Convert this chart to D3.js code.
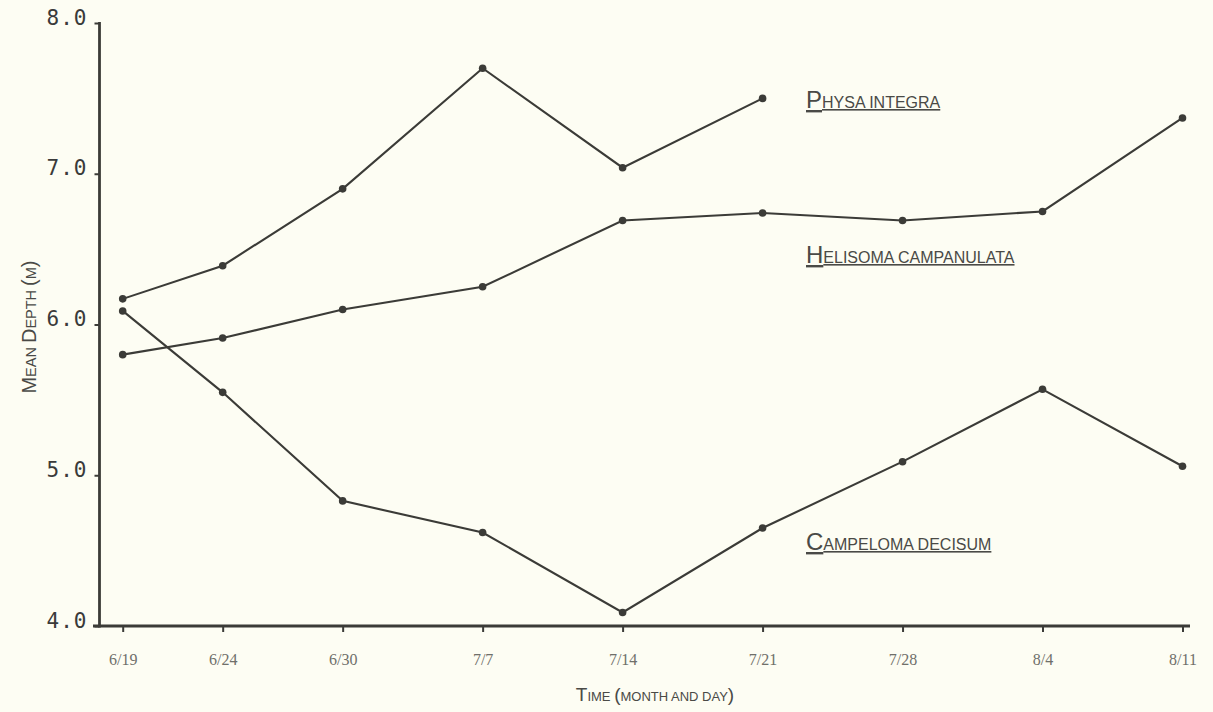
<!DOCTYPE html>
<html>
<head>
<meta charset="utf-8">
<script src="https://cdn.jsdelivr.net/npm/d3@7"></script>
<style>
  html, body { margin: 0; padding: 0; background: #fdfdf3; }
  svg { display: block; }
</style>
</head>
<body>
<script>
// Sampling dates (month/day) and mean depth (m) of each snail species
const dates = ["6/19", "6/24", "6/30", "7/7", "7/14", "7/21", "7/28", "8/4", "8/11"];
const yTicks = [4.0, 5.0, 6.0, 7.0, 8.0];

const physaIntegra = [6.17, 6.39, 6.90, 7.70, 7.04, 7.50];
const helisomaCampanulata = [5.80, 5.91, 6.10, 6.25, 6.69, 6.74, 6.69, 6.75, 7.37];
const campelomaDecisum = [6.09, 5.55, 4.83, 4.62, 4.09, 4.65, 5.09, 5.57, 5.06];

const seriesNames = ["Physa integra", "Helisoma campanulata", "Campeloma decisum"];
const seriesValues = [physaIntegra, helisomaCampanulata, campelomaDecisum];

const W = 1213, H = 712;
const ink = "#3b3b37";

const parse = d3.timeParse("%m/%d");
const days = dates.map(parse);

const svg = d3.select("body").append("svg")
  .attr("width", W).attr("height", H);

svg.append("rect").attr("width", W).attr("height", H).attr("fill", "#fdfdf3");

const x = d3.scaleTime()
  .domain([days[0], days[days.length - 1]])
  .range([122.7, 1182.5]);

const y = d3.scaleLinear()
  .domain([4, 8])
  .range([626, 23]);

// Lettering-guide style caps: capitals large, lower-case drawn as small capitals
function smallCaps(textSel, str, bigSize, smallSize) {
  let runs = [];
  for (const ch of str) {
    const big = ch !== ch.toLowerCase() || ch === "(" || ch === ")";
    const last = runs[runs.length - 1];
    if (last && last.big === big) last.s += ch;
    else runs.push({ big, s: ch });
  }
  runs.forEach(r => {
    textSel.append("tspan")
      .attr("font-size", r.big ? bigSize : smallSize)
      .text(r.s.toUpperCase());
  });
  return textSel;
}

// Y axis
const yAxis = d3.axisLeft(y)
  .tickValues(yTicks)
  .tickFormat(d3.format(".1f"))
  .tickSize(5)
  .tickSizeOuter(0)
  .tickPadding(7);

const gy = svg.append("g")
  .attr("transform", "translate(99.5,0)")
  .call(yAxis);
gy.select(".domain").remove();
gy.selectAll(".tick line").attr("stroke", ink).attr("stroke-width", 2);
gy.selectAll(".tick text")
  .attr("fill", "#3a3a3a")
  .attr("font-family", "'DejaVu Sans Mono', monospace")
  .attr("font-size", 21)
  .attr("dy", "0.05em")
  .attr("letter-spacing", 1);

svg.append("line")
  .attr("x1", 99.5).attr("x2", 99.5)
  .attr("y1", y(8) - 1).attr("y2", y(4) + 1.5)
  .attr("stroke", ink).attr("stroke-width", 2.8);

// X axis
const xAxis = d3.axisBottom(x)
  .tickValues(days)
  .tickFormat((d, i) => dates[i])
  .tickSize(6)
  .tickSizeOuter(0)
  .tickPadding(22);

const gx = svg.append("g")
  .attr("transform", `translate(0,${y(4)})`)
  .call(xAxis);
gx.select(".domain").remove();
gx.selectAll(".tick line").attr("stroke", ink).attr("stroke-width", 2);
gx.selectAll(".tick text")
  .attr("fill", "#6f6f6a")
  .attr("font-family", "'Liberation Serif', serif")
  .attr("font-size", 16);

svg.append("line")
  .attr("x1", 93).attr("x2", 1190)
  .attr("y1", y(4)).attr("y2", y(4))
  .attr("stroke", ink).attr("stroke-width", 2.8);

// Series lines and points
const line = d3.line()
  .x((d, i) => x(days[i]))
  .y(d => y(d));

seriesValues.forEach(vals => {
  svg.append("path")
    .datum(vals)
    .attr("d", line)
    .attr("fill", "none")
    .attr("stroke", ink)
    .attr("stroke-width", 2.1);
  svg.append("g").selectAll("circle")
    .data(vals)
    .join("circle")
    .attr("cx", (d, i) => x(days[i]))
    .attr("cy", d => y(d))
    .attr("r", 3.8)
    .attr("fill", ink);
});

// Species labels
const labelFont = "'Liberation Sans', Arial, sans-serif";
const labelPos = [
  { x: 806, y: 108 },
  { x: 806, y: 263 },
  { x: 806, y: 550 }
];
seriesNames.forEach((name, i) => {
  const t = svg.append("text")
    .attr("x", labelPos[i].x)
    .attr("y", labelPos[i].y)
    .attr("fill", "#4a4a46")
    .attr("font-family", labelFont)
    .attr("text-decoration", "underline");
  smallCaps(t, name, 24, 16);
});

// Axis titles
const yt = svg.append("text")
  .attr("transform", "translate(36,327) rotate(-90)")
  .attr("text-anchor", "middle")
  .attr("fill", "#4a4a46")
  .attr("font-family", labelFont);
smallCaps(yt, "Mean Depth (m)", 20, 14.5);

const xt = svg.append("text")
  .attr("x", 655).attr("y", 701)
  .attr("text-anchor", "middle")
  .attr("fill", "#4a4a46")
  .attr("font-family", labelFont);
smallCaps(xt, "Time (month and day)", 19, 13);
</script>
</body>
</html>
